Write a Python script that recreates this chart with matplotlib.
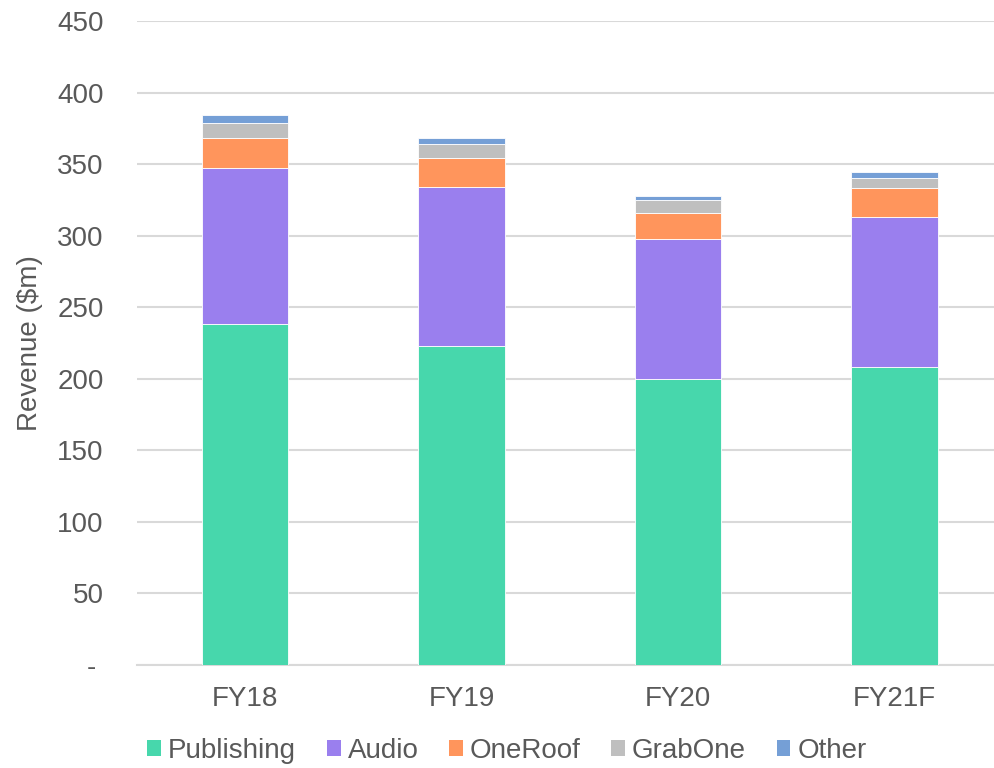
import numpy as np
import matplotlib
matplotlib.use("Agg")
import matplotlib.pyplot as plt
from matplotlib.patches import Patch

plt.rcParams['font.family'] = ['Liberation Sans', 'DejaVu Sans']

years = ['FY18', 'FY19', 'FY20', 'FY21F']
publishing = [238, 223, 200, 208]
audio = [109, 111, 98, 105]
oneroof = [21, 20, 18, 20.5]
grabone = [11, 10, 9, 7]
other = [5, 4.5, 2.5, 3.7]

series = [('Publishing', publishing, '#47d7ac'),
          ('Audio', audio, '#9a7fee'),
          ('OneRoof', oneroof, '#ff955c'),
          ('GrabOne', grabone, '#bfbfbf'),
          ('Other', other, '#759fd6')]

txt = '#595959'
grid = '#d9d9d9'

fig = plt.figure(figsize=(9.94, 7.68), dpi=100)
ax = fig.add_axes([137/994, 1 - 665/768, 1 - 137/994, 644/768])

x = np.arange(len(years))
bottom = np.zeros(len(years))
for name, vals, col in series:
    ax.bar(x, vals, 0.4, bottom=bottom, color=col, edgecolor='white', linewidth=0.6, zorder=3)
    bottom += np.array(vals)

ax.set_ylim(0, 450)
ax.set_xlim(-0.5, 3.46)
ax.set_yticks(range(0, 451, 50))
ax.set_yticklabels(['- '] + [str(v) for v in range(50, 451, 50)])
ax.set_xticks(x)
ax.set_xticklabels(years)
ax.yaxis.grid(True, color=grid, linewidth=1.5, zorder=0)
ax.set_axisbelow(True)
for s in ['top', 'right', 'left']:
    ax.spines[s].set_visible(False)
ax.spines['bottom'].set_color(grid)
ax.spines['bottom'].set_linewidth(1.5)
ax.tick_params(axis='both', length=0, labelsize=20, colors=txt)
ax.tick_params(axis='y', pad=24)
ax.tick_params(axis='x', pad=15)
ax.set_ylabel('Revenue ($m)', fontsize=20, color=txt, labelpad=10)

handles = [Patch(facecolor=c, label=n) for n, v, c in series]
fig.legend(handles=handles, loc='center', bbox_to_anchor=(0.51, 0.022), ncol=5,
           frameon=False, fontsize=20, labelcolor=txt, handlelength=0.5,
           handleheight=0.5, handletextpad=0.25, columnspacing=1.1, borderaxespad=0)

fig.savefig('out.png', dpi=100)
